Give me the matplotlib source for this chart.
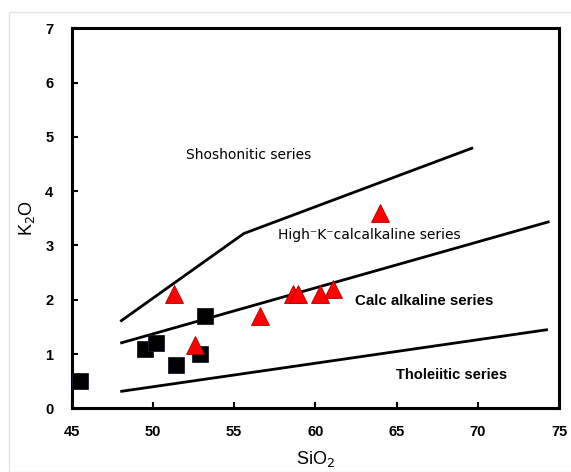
import matplotlib
matplotlib.use("Agg")
import matplotlib.pyplot as plt
from matplotlib.patches import Rectangle

# Boundary lines (SiO2, K2O)
shoshonite_x = [48.0, 55.6, 69.7]
shoshonite_y = [1.6, 3.22, 4.8]
highk_x = [48.0, 74.4]
highk_y = [1.2, 3.44]
calc_x = [48.0, 74.3]
calc_y = [0.31, 1.45]

# Samples
square_x = [45.5, 49.5, 50.2, 51.4, 52.9, 53.2]
square_y = [0.5, 1.1, 1.2, 0.8, 1.0, 1.7]
tri_x = [51.3, 52.6, 56.6, 58.6, 58.95, 60.3, 61.1, 64.0]
tri_y = [2.1, 1.17, 1.7, 2.1, 2.1, 2.1, 2.19, 3.6]

xticks = [45, 50, 55, 60, 65, 70, 75]
yticks = [0, 1, 2, 3, 4, 5, 6, 7]

W, H = 571, 472
fig = plt.figure(figsize=(W / 100, H / 100), dpi=100)
fig.patches.append(Rectangle((9 / W, 0), 1, 1 - 12.3 / H, transform=fig.transFigure,
                             fill=False, edgecolor='#e4e4e4', linewidth=1.0))
ax = fig.add_axes([71.5 / W, 1 - 408.3 / H, (559.3 - 71.5) / W, (408.3 - 28.3) / H])

lw = 2.0
ax.plot(shoshonite_x, shoshonite_y, color='black', lw=lw, solid_capstyle='butt')
ax.plot(highk_x, highk_y, color='black', lw=lw, solid_capstyle='butt')
ax.plot(calc_x, calc_y, color='black', lw=lw, solid_capstyle='butt')

ax.plot(square_x, square_y, linestyle='none', marker='s', markersize=12,
        markerfacecolor='black', markeredgecolor='#1a1a2a', markeredgewidth=0.6,
        clip_on=False, zorder=3)
ax.plot(tri_x, tri_y, linestyle='none', marker='^', markersize=12.3,
        markerfacecolor='#ff0000', markeredgecolor='#b00000', markeredgewidth=0.6,
        clip_on=False, zorder=3)

ax.set_xlim(45, 75)
ax.set_ylim(0, 7)
ax.set_xticks(xticks)
ax.set_yticks(yticks)
ax.tick_params(direction='in', length=4, width=1.5, labelsize=10.5, colors='black')
ax.tick_params(axis='y', pad=13)
ax.tick_params(axis='x', pad=12)
for lab in ax.get_xticklabels() + ax.get_yticklabels():
    lab.set_family('Liberation Sans')
    lab.set_fontweight('bold')
for s in ax.spines.values():
    s.set_linewidth(2.2)

ax.set_xlabel('SiO$_2$', fontsize=13, family='Liberation Sans', labelpad=7)
ax.set_ylabel('K$_2$O', fontsize=13, family='Liberation Sans', labelpad=6)

ax.text(55.9, 4.67, 'Shoshonitic series', fontsize=10, family='DejaVu Sans',
        ha='center', va='center')
ax.text(63.3, 3.2, 'High\u207bK\u207bcalcalkaline series', fontsize=10, family='DejaVu Sans',
        ha='center', va='center')
ax.text(66.7, 1.97, 'Calc alkaline series', fontsize=10.8, family='Liberation Sans',
        fontweight='bold', ha='center', va='center')
ax.text(68.4, 0.62, 'Tholeiitic series', fontsize=10.6, family='Liberation Sans',
        fontweight='bold', ha='center', va='center')

fig.savefig('out.png', dpi=100)
